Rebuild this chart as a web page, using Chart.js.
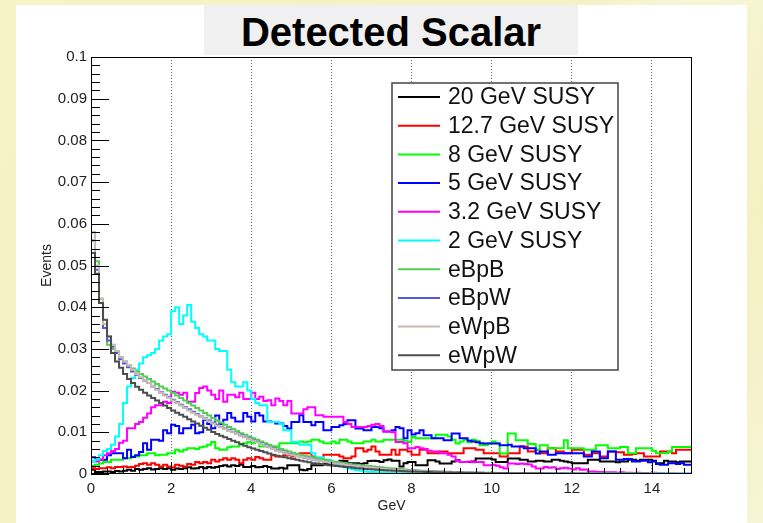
<!DOCTYPE html>
<html>
<head>
<meta charset="utf-8">
<title>Detected Scalar</title>
<script src="https://cdn.jsdelivr.net/npm/chart.js@4.4.1/dist/chart.umd.min.js"></script>
<style>
  html, body { margin: 0; padding: 0; }
  body {
    width: 763px; height: 523px; overflow: hidden; position: relative;
    background: linear-gradient(115deg, #f6f3c6 0%, #f4f1c4 55%, #f8f6d8 70%, #f3f0c2 85%, #f7f5d4 100%);
    font-family: 'Liberation Sans', Arial, sans-serif;
  }
  #panel { position: absolute; left: 16px; top: 5px; width: 731px; height: 518px; background: #ffffff; }
  #title {
    position: absolute; left: 204px; top: 5px; width: 374px; height: 50px;
    background: #f0f0f0; color: #000; text-align: center;
    font: bold 40px 'Liberation Sans', Arial, sans-serif; line-height: 54px;
  }
  #c { position: absolute; left: 0; top: 0; }
</style>
</head>
<body>
<div id="panel"></div>
<div id="title">Detected Scalar</div>
<canvas id="c" width="763" height="523"></canvas>
<script>
//Datos: histogramas de 150 bins de 0.1 GeV entre 0 y 15 GeV
//Valores en unidades de 0.001 eventos (se multiplican al construir los puntos)
    const BIN_WIDTH = 0.1;
    const X_MAX = 15;

    const seriesNames = ["20 GeV SUSY", "12.7 GeV SUSY", "8 GeV SUSY", "5 GeV SUSY",
        "3.2 GeV SUSY", "2 GeV SUSY", "eBpB", "eBpW", "eWpB", "eWpW"];

    const susy20 = [5, 1, 0.5, 0.5, 0.6, 0.6, 0.5, 0.7, 0.6, 0.8,
        1, 0.8, 1.2, 1, 1.2, 1.4, 1.1, 1.2, 1.4, 1.2,
        1.4, 1, 1.3, 1.2, 1.4, 1.6, 1.3, 1.4, 1.7, 1.4,
        1.7, 1.5, 1.7, 1.9, 2.1, 1.8, 2.1, 1.9, 2.2, 1.7,
        1.7, 1.9, 1.6, 1.7, 1.9, 1.7, 1.3, 1.3, 1.5, 1.3,
        2.1, 2.1, 2.1, 1, 0.9, 1.2, 2.1, 2.1, 2.1, 2.4,
        2.2, 2.5, 2.1, 3.2, 3.1, 2.6, 2.6, 2.6, 2.4, 2.6,
        3.1, 3.2, 3.1, 2.9, 3.3, 3.5, 3.2, 3.2, 1.8, 2.6,
        2.9, 2.9, 2.1, 2.1, 2.1, 3.3, 3.3, 3, 2.5, 2.5,
        2.5, 3, 3.3, 2.9, 2.9, 2.9, 3, 3.7, 3.7, 3.7,
        3.7, 3.5, 2.9, 2.9, 2.9, 3.7, 3.7, 3.7, 3.4, 3.4,
        3, 3, 3.2, 3.2, 3, 3, 3.4, 3.4, 3.2, 3,
        2.8, 2.6, 2.6, 2.6, 2.6, 3.4, 3.4, 3.4, 3, 3,
        3, 3, 2.8, 3, 3, 3.4, 3.4, 3.2, 3.4, 3.4,
        3.4, 3.2, 2.6, 2.6, 3.2, 3, 3, 2.8, 3, 3];

    const susy12 = [2.5, 1.4, 1.2, 1.4, 1.4, 1.6, 1.4, 1.7, 1.7, 1.8,
        1.6, 1.7, 2, 2.4, 2.6, 2.2, 2.6, 2.2, 1.8, 2.2,
        1.8, 1.6, 2.2, 2, 1.8, 2.4, 2.2, 2.9, 2.6, 2.9,
        2.6, 3.4, 3, 3.4, 3.8, 3.4, 3.8, 3.4, 2.6, 3.4,
        3.8, 3.4, 4.1, 3.8, 3.4, 3.4, 4.5, 4.2, 4.2, 4.5,
        4.5, 4.2, 4.5, 5, 5, 5, 4.2, 3.8, 3.8, 4.6,
        4.6, 4.6, 4.6, 4.2, 3.8, 3.8, 4.2, 6.2, 6.2, 5.4,
        5.8, 6.6, 5.4, 4.6, 4.6, 4.6, 5.8, 4.6, 5.8, 5.8,
        5.4, 4.6, 4.6, 5.8, 5.8, 5, 5, 5, 5.4, 5.4,
        5, 5, 5, 5, 6.2, 6.2, 6.2, 5.8, 5.8, 5,
        5, 5, 5, 4.2, 4.2, 5, 5, 5, 6.6, 6.6,
        5.4, 5.4, 5.8, 5, 5, 6.2, 6.2, 5.4, 5.4, 5,
        5, 5.8, 5.8, 5.8, 4.6, 4.6, 5, 5, 4.2, 4.2,
        5.4, 5.4, 5.2, 5.2, 4.6, 4.6, 4.8, 5, 5, 4.2,
        4.2, 4.2, 4.2, 5.4, 5.4, 5.4, 5, 5.8, 5.8, 5.8];

    const susy8 = [2, 2, 2.2, 2.5, 2.9, 2.9, 3.4, 3.4, 3.4, 3.8,
        3.8, 4.2, 4.2, 4.5, 4.5, 5, 5, 4.5, 4.6, 4.6,
        5, 5, 5.8, 5.4, 5.8, 6.2, 6.2, 6, 6.4, 6.6,
        7, 7.7, 6.2, 5.8, 5.8, 6.4, 6.6, 6.6, 7, 7.4,
        7.7, 7.4, 7.8, 6.6, 6.6, 6.8, 6.6, 6.6, 7.4, 7.4,
        7.4, 7.4, 7.4, 7.8, 7.6, 7.8, 8.2, 8.2, 7.8, 7.4,
        7.4, 7.8, 7.4, 8.2, 8.2, 7.8, 7.4, 7.4, 7.4, 7.8,
        7.8, 8.2, 7.8, 7.8, 8.2, 8.2, 8.2, 8.2, 8.2, 8,
        7.7, 8.9, 8.6, 8.6, 8.6, 8.6, 8.6, 9.4, 9.4, 9.4,
        9, 8.2, 7.3, 7.8, 8.2, 7.6, 8.2, 8, 6.9, 6.9,
        7.4, 7.8, 7.4, 4.9, 4.9, 9.7, 9.7, 8.1, 8.1, 8.1,
        7.2, 7.2, 5.8, 6.9, 6.9, 6.2, 6.2, 6.2, 6.2, 8.1,
        6.2, 6.2, 6.2, 6.2, 5.8, 5.8, 5.8, 6.9, 6.9, 6.9,
        6.2, 6.2, 6.2, 6.5, 6.5, 5, 5, 6.2, 6.2, 6.2,
        6.2, 5.6, 5, 5, 5, 5.4, 6.5, 6.5, 6.5, 6.5];

    const susy5 = [4.5, 4, 3.5, 3.4, 3.4, 4.5, 5, 5, 5, 3.8,
        5.8, 4.1, 4.5, 5.3, 7.4, 5.8, 8.2, 8.2, 8, 10.5,
        9.8, 11.8, 11.5, 9.8, 11, 11, 11.8, 9.8, 10, 13,
        12, 11, 14, 12, 13, 14.6, 13.5, 12.6, 12.6, 14.6,
        13.7, 12.6, 14.6, 14, 12.6, 12.6, 12.5, 12.1, 12.1, 11.5,
        10.9, 12.5, 12.5, 14.1, 12.5, 12.5, 11.7, 12.5, 12.5, 10.5,
        10.5, 11.3, 11.3, 11.7, 12, 12.9, 12.9, 10.9, 10.9, 10.5,
        10.5, 11.3, 11.3, 11, 10.2, 10.2, 10.5, 11.3, 11, 8.6,
        10.5, 9.5, 9.8, 10.5, 9.3, 9.3, 8.6, 8.6, 8.6, 8.1,
        8.1, 9.7, 9.7, 8.6, 8.6, 8, 7.8, 7.6, 7.4, 7.3,
        7.3, 7.3, 7.3, 6.9, 6.9, 7, 6.6, 6.6, 6.6, 6.2,
        6.2, 6.2, 4.9, 5.4, 5.4, 4.6, 4.6, 5, 5, 5,
        5, 5, 5, 5, 4.2, 4.2, 5.4, 5.4, 3.8, 3.8,
        5.4, 5.4, 3.4, 3.4, 3.6, 3.6, 3, 3, 3.2, 3.2,
        2.8, 3, 2.4, 2.2, 2.2, 2.6, 2.6, 2.4, 2.6, 2.2];

    const susy3 = [2.5, 3, 3, 3.5, 4.5, 5, 5.5, 6, 7.5, 8,
        11, 11, 12, 12.5, 13.5, 14.5, 16, 16.5, 16.5, 17.3,
        17, 19.7, 19.5, 19, 19.5, 17.3, 17.3, 19.4, 20.6, 21,
        20, 19, 18, 20, 17.3, 19, 19, 18.4, 19.5, 18,
        18, 19.5, 18, 18.5, 17.5, 17.7, 16.5, 18.1, 17.5, 16.5,
        17.5, 14.5, 14.5, 14.5, 15.5, 16, 16, 14.1, 14.1, 13.7,
        13.7, 13.7, 13.7, 13.7, 12.5, 12, 11.3, 11.3, 11.3, 11.3,
        11.5, 11.8, 12, 11.5, 10.2, 10.2, 10, 7.7, 7.7, 7.4,
        6.2, 6.2, 6.5, 6.2, 6, 5.6, 5.4, 5.4, 5, 5,
        4.6, 4.2, 3.2, 2.9, 2.9, 3, 2.8, 2.9, 2.9, 2.1,
        2.1, 2.2, 2, 1.6, 1.3, 2.5, 2.5, 2.4, 2.5, 2.4,
        2.3, 1.8, 1.3, 1.3, 1.7, 1.5, 1.6, 1.2, 1.4, 1.5,
        1.3, 1.1, 1.4, 1, 1.1, 0.6, 0.6, 0.5, 0.5, 0.4,
        0.4, 0.4, 0.3, 0.4, 0.3, 0.3, 0.2, 0.3, 0.2, 0.2,
        0.2, 0.3, 0.2, 0.2, 0.1, 0.2, 0.2, 0.1, 0.1, 0.1];

    const susy2 = [2.5, 3, 3.5, 4.5, 5.5, 6, 7, 9, 12, 17,
        21, 23, 25, 26.5, 28, 28.5, 29, 30, 32, 33,
        33.5, 39, 40, 36, 38, 40.5, 36.5, 35, 33.5, 33,
        32, 32, 30, 29.5, 29.5, 25, 22, 21, 21, 22,
        20, 18, 17, 16.5, 16.5, 12.5, 12.5, 12.5, 12, 10.5,
        10.5, 7.7, 7.7, 7, 7, 7, 5, 4, 4, 3.4,
        3.4, 2.6, 2.2, 2, 1.6, 1.3, 1.1, 0.9, 0.8, 0.6,
        0.5, 0.5, 0.4, 0.4, 0.4, 0.3, 0.3, 0.3, 0.3, 0.2,
        0.2, 0.2, 0.2, 0.1, 0.2, 0.2, 0.1, 0.1, 0.2, 0.1,
        0.1, 0.2, 0.1, 0.1, 0.1, 0.2, 0.1, 0.1, 0.1, 0.1,
        0.2, 0.1, 0.1, 0.1, 0.1, 0.1, 0.2, 0.1, 0.1, 0.1,
        0.1, 0.1, 0.1, 0.2, 0.1, 0.1, 0.1, 0.1, 0.1, 0.1,
        0.1, 0.2, 0.1, 0.1, 0.1, 0.1, 0.1, 0.1, 0.2, 0.1,
        0.1, 0.1, 0.1, 0.1, 0.1, 0.2, 0.1, 0.1, 0.1, 0.1,
        0.1, 0.1, 0.2, 0.1, 0.1, 0.1, 0.1, 0.1, 0.1, 0.1];

    const eBpB = [40, 58, 51, 42, 35, 31, 30, 29, 28, 27,
        26, 25.3, 24.6, 24, 23.4, 22.8, 22.2, 21.6, 21, 20.5,
        20, 19.4, 18.8, 18.2, 17.6, 17, 16.4, 15.8, 15.2, 14.6,
        14, 13.4, 12.8, 12.3, 11.8, 11.3, 10.8, 10.3, 9.8, 9.4,
        9, 8.6, 8.2, 7.8, 7.4, 7, 6.6, 6.3, 6, 5.7,
        5.4, 5.1, 4.8, 4.6, 4.4, 4.2, 4, 3.8, 3.6, 3.4,
        3.2, 3, 2.9, 2.7, 2.6, 2.4, 2.3, 2.2, 2.1, 2,
        1.9, 1.8, 1.7, 1.6, 1.5, 1.4, 1.3, 1.25, 1.2, 1.1,
        0.95, 0.9, 0.85, 0.8, 0.75, 0.7, 0.66, 0.62, 0.58, 0.55,
        0.52, 0.49, 0.46, 0.43, 0.4, 0.38, 0.36, 0.34, 0.32, 0.3,
        0.28, 0.27, 0.25, 0.24, 0.22, 0.21, 0.2, 0.19, 0.18, 0.17,
        0.16, 0.15, 0.14, 0.13, 0.13, 0.12, 0.11, 0.11, 0.1, 0.1,
        0.09, 0.09, 0.08, 0.08, 0.07, 0.07, 0.07, 0.06, 0.06, 0.06,
        0.05, 0.05, 0.05, 0.05, 0.04, 0.04, 0.04, 0.04, 0.04, 0.03,
        0.03, 0.03, 0.03, 0.03, 0.03, 0.03, 0.02, 0.02, 0.02, 0.02];

    const eBpW = [48, 56, 49, 41, 35, 32, 30.5, 29, 27.5, 26.5,
        25.6, 24.6, 23.8, 23, 22.4, 21.8, 21, 20.4, 19.6, 19,
        18.4, 17.8, 17.2, 16.6, 16, 15.5, 14.9, 14.4, 13.8, 13.3,
        12.8, 12.3, 11.8, 11.3, 10.9, 10.5, 10.1, 9.7, 9.3, 8.9,
        8.5, 8.1, 7.7, 7.3, 6.9, 6.5, 6.1, 5.7, 5.4, 5.1,
        4.8, 4.5, 4.3, 4.1, 3.9, 3.7, 3.5, 3.3, 3.1, 2.9,
        2.8, 2.6, 2.5, 2.4, 2.2, 2.1, 2, 1.9, 1.8, 1.7,
        1.6, 1.5, 1.4, 1.3, 1.2, 1.15, 1.1, 1, 0.95, 0.9,
        0.85, 0.8, 0.75, 0.7, 0.66, 0.62, 0.58, 0.55, 0.51, 0.48,
        0.45, 0.42, 0.39, 0.37, 0.35, 0.33, 0.31, 0.29, 0.27, 0.25,
        0.23, 0.22, 0.21, 0.2, 0.19, 0.18, 0.17, 0.16, 0.15, 0.14,
        0.13, 0.12, 0.12, 0.11, 0.11, 0.1, 0.1, 0.09, 0.09, 0.08,
        0.08, 0.07, 0.07, 0.07, 0.06, 0.06, 0.06, 0.05, 0.05, 0.05,
        0.05, 0.04, 0.04, 0.04, 0.04, 0.04, 0.03, 0.03, 0.03, 0.03,
        0.03, 0.03, 0.03, 0.02, 0.02, 0.02, 0.02, 0.02, 0.02, 0.02];

    const eWpB = [50, 58, 50, 42, 36, 33, 31, 29.5, 28, 27,
        26, 25, 24, 23.2, 22.5, 21.8, 21, 20.2, 19.5, 18.8,
        18.2, 17.6, 17, 16.4, 15.8, 15.2, 14.7, 14.2, 13.7, 13.2,
        12.6, 12.1, 11.6, 11.2, 10.8, 10.4, 10, 9.6, 9.2, 8.8,
        8.4, 8, 7.6, 7.2, 6.8, 6.4, 6, 5.6, 5.3, 5,
        4.7, 4.5, 4.3, 4.1, 3.9, 3.7, 3.5, 3.3, 3.1, 2.9,
        2.8, 2.6, 2.5, 2.4, 2.2, 2.1, 2, 1.9, 1.8, 1.7,
        1.6, 1.5, 1.4, 1.3, 1.2, 1.15, 1.1, 1, 0.95, 0.9,
        0.85, 0.8, 0.75, 0.7, 0.65, 0.6, 0.57, 0.54, 0.5, 0.47,
        0.44, 0.41, 0.38, 0.36, 0.34, 0.32, 0.3, 0.28, 0.26, 0.24,
        0.22, 0.21, 0.2, 0.19, 0.18, 0.17, 0.16, 0.15, 0.14, 0.13,
        0.12, 0.12, 0.11, 0.11, 0.1, 0.1, 0.09, 0.09, 0.08, 0.08,
        0.07, 0.07, 0.07, 0.06, 0.06, 0.06, 0.05, 0.05, 0.05, 0.05,
        0.04, 0.04, 0.04, 0.04, 0.04, 0.03, 0.03, 0.03, 0.03, 0.03,
        0.03, 0.03, 0.02, 0.02, 0.02, 0.02, 0.02, 0.02, 0.02, 0.02];

    const eWpW = [52, 53, 48, 41, 37, 33, 29, 27, 25.5, 24,
        22.8, 21.8, 20.9, 20.2, 19.5, 18.8, 18.2, 17.6, 17, 16.4,
        15.8, 15.2, 14.7, 14.2, 13.7, 13.1, 12.6, 12.1, 11.6, 11.1,
        10.6, 10.1, 9.6, 9.2, 8.8, 8.4, 8, 7.6, 7.2, 6.8,
        6.4, 6.1, 5.8, 5.5, 5.2, 4.9, 4.6, 4.4, 4.2, 4,
        3.8, 3.6, 3.4, 3.2, 3, 2.8, 2.6, 2.5, 2.4, 2.2,
        2.1, 2, 1.9, 1.8, 1.7, 1.6, 1.5, 1.4, 1.3, 1.2,
        1.15, 1.1, 1, 0.95, 0.9, 0.85, 0.8, 0.75, 0.7, 0.66,
        0.62, 0.58, 0.55, 0.52, 0.49, 0.46, 0.43, 0.4, 0.38, 0.36,
        0.34, 0.32, 0.3, 0.28, 0.26, 0.25, 0.24, 0.22, 0.21, 0.2,
        0.19, 0.18, 0.17, 0.16, 0.15, 0.14, 0.13, 0.12, 0.12, 0.11,
        0.1, 0.1, 0.09, 0.09, 0.08, 0.08, 0.07, 0.07, 0.06, 0.06,
        0.06, 0.05, 0.05, 0.05, 0.04, 0.04, 0.04, 0.04, 0.03, 0.03,
        0.03, 0.03, 0.03, 0.03, 0.03, 0.03, 0.03, 0.03, 0.03, 0.03,
        0.02, 0.02, 0.02, 0.02, 0.02, 0.02, 0.02, 0.02, 0.02, 0.02];

    const seriesValues = [susy20, susy12, susy8, susy5, susy3, susy2, eBpB, eBpW, eWpB, eWpW];
    const seriesColors = ["#000000", "#ff0000", "#00ff00", "#0000ff", "#ff00ff", "#00ffff",
        "#55cc55", "#5555dd", "#c4bcb2", "#4d4d4d"];

    const xTicks = [0, 2, 4, 6, 8, 10, 12, 14];
    const yTicks = [0, 0.01, 0.02, 0.03, 0.04, 0.05, 0.06, 0.07, 0.08, 0.09, 0.1];

//Funciones
    //Convierte un histograma en puntos escalonados (borde inferior de cada bin)
        function histPoints(values){
            var pts = [];
            for(var i = 0; i < values.length; i++){
                pts.push({x: i * BIN_WIDTH, y: values[i] * 0.001});
            }
            pts.push({x: X_MAX, y: values[values.length - 1] * 0.001});
            return pts;
        }

    //Marco, marcas hacia dentro (estilo ROOT) y leyenda
        const rootFrame = {
            id: 'rootFrame',
            afterDatasetsDraw(chart){
                const ctx = chart.ctx, a = chart.chartArea;
                const xs = chart.scales.x, ys = chart.scales.y;
                ctx.save();
                ctx.strokeStyle = '#000';
                ctx.lineWidth = 1;
                ctx.beginPath();
                //eje y: principal 0.01, secundaria 0.002
                for(var k = 0; k <= 50; k++){
                    var py = Math.round(ys.getPixelForValue(k * 0.002)) + 0.5;
                    var len = (k % 5 == 0) ? 18 : 9;
                    ctx.moveTo(a.left, py);
                    ctx.lineTo(a.left + len, py);
                }
                //eje x: principal 2, secundaria 0.4
                for(var k = 0; k <= 37; k++){
                    var px = Math.round(xs.getPixelForValue(k * 0.4)) + 0.5;
                    var len = (k % 5 == 0) ? 12 : 6;
                    ctx.moveTo(px, a.bottom);
                    ctx.lineTo(px, a.bottom - len);
                }
                ctx.stroke();
                ctx.strokeRect(a.left + 0.5, a.top + 0.5, a.right - a.left - 1, a.bottom - a.top - 1);

                //Leyenda
                const box = {left: 392, top: 83, right: 618, bottom: 370};
                ctx.fillStyle = '#ffffff';
                ctx.fillRect(box.left, box.top, box.right - box.left, box.bottom - box.top);
                ctx.strokeStyle = '#444';
                ctx.lineWidth = 1.5;
                ctx.strokeRect(box.left, box.top, box.right - box.left, box.bottom - box.top);
                ctx.font = "23px 'Liberation Sans', Arial, sans-serif";
                ctx.textBaseline = 'middle';
                ctx.textAlign = 'left';
                chart.data.datasets.forEach(function(ds, i){
                    var y = 97 + i * 28.7;
                    ctx.strokeStyle = ds.borderColor;
                    ctx.lineWidth = 2;
                    ctx.beginPath();
                    ctx.moveTo(398, y);
                    ctx.lineTo(440, y);
                    ctx.stroke();
                    ctx.fillStyle = '#111';
                    ctx.fillText(ds.label, 448, y + 1);
                });
                ctx.restore();
            }
        };

//Gráfica
    const datasets = seriesNames.map(function(name, i){
        return {
            label: name,
            data: histPoints(seriesValues[i]),
            borderColor: seriesColors[i],
            borderWidth: 2,
            stepped: 'after',
            pointRadius: 0,
            fill: false,
            order: seriesNames.length - i   // el último se dibuja encima, como en ROOT
        };
    });

    const fontFam = "'Liberation Sans', Arial, sans-serif";

    new Chart(document.getElementById('c'), {
        type: 'line',
        data: {datasets: datasets},
        options: {
            responsive: false,
            animation: false,
            devicePixelRatio: 1,
            layout: {padding: {left: 0, top: 57, right: 71, bottom: 0}},
            plugins: {legend: {display: false}, tooltip: {enabled: false}, title: {display: false}},
            scales: {
                x: {
                    type: 'linear', min: 0, max: X_MAX,
                    afterBuildTicks: function(s){ s.ticks = xTicks.map(function(v){ return {value: v}; }); },
                    afterFit: function(s){ s.height = 49; },
                    grid: {display: true, color: '#666', lineWidth: 1, drawTicks: false},
                    border: {display: false, dash: [1, 2]},
                    ticks: {font: {family: fontFam, size: 15}, color: '#222', padding: 6, maxRotation: 0},
                    title: {display: true, text: 'GeV', font: {family: fontFam, size: 14}, color: '#222',
                        padding: {top: 0, bottom: 8}}
                },
                y: {
                    type: 'linear', min: 0, max: 0.1,
                    afterBuildTicks: function(s){ s.ticks = yTicks.map(function(v){ return {value: v}; }); },
                    afterFit: function(s){ s.width = 91; },
                    grid: {display: false, drawTicks: false},
                    border: {display: false},
                    ticks: {font: {family: fontFam, size: 15}, color: '#222', padding: 4,
                        callback: function(v){ return String(+v.toFixed(3)); }},
                    title: {display: true, text: 'Events', font: {family: fontFam, size: 14}, color: '#222',
                        padding: {top: 39, bottom: 0}}
                }
            }
        },
        plugins: [rootFrame]
    });
</script>
</body>
</html>
